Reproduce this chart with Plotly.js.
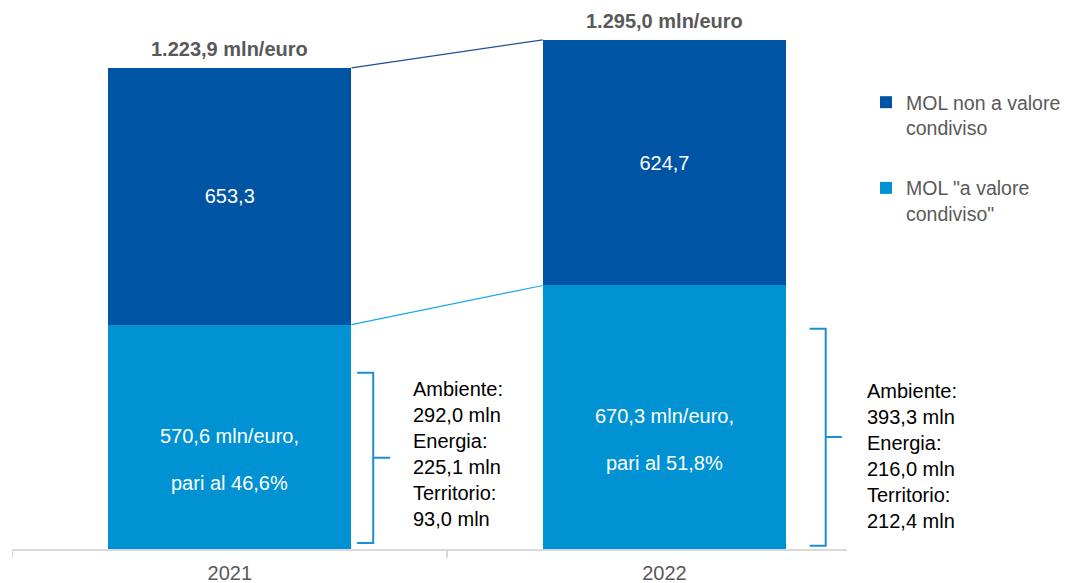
<!DOCTYPE html>
<html>
<head>
<meta charset="utf-8">
<script src="https://cdn.plot.ly/plotly-3.0.1.min.js"></script>
<style>html,body{margin:0;padding:0;background:#fff;}#chart{width:1072px;height:583px;}</style>
</head>
<body>
<div id="chart"></div>
<script>
// ---- data ----
var years = ['2021', '2022'];
var molCondiviso = [570.6, 670.3];      // MOL "a valore condiviso"
var molNonCondiviso = [653.3, 624.7];   // MOL non a valore condiviso
var ambiente = [292.0, 393.3];
var energia = [225.1, 216.0];
var territorio = [93.0, 212.4];
var seriesNames = ['MOL "a valore<br>condiviso"', 'MOL non a valore<br>condiviso'];

// ---- helpers ----
function fmt(v) {
  var s = v.toFixed(1).split('.');
  var intPart = s[0].replace(/\B(?=(\d{3})+(?!\d))/g, '.');
  return intPart + ',' + s[1];
}
var xs = years.map(function (_, i) { return i; });
var totals = xs.map(function (i) { return molCondiviso[i] + molNonCondiviso[i]; });

var DARK = '#0054A4';
var LIGHT = '#0092D2';
var GRAY = '#595959';
var FONT = 'Liberation Sans, Arial, sans-serif';
var BW = 0.56;

var traces = [
  {
    type: 'bar', x: xs, y: molCondiviso, name: seriesNames[0],
    marker: {color: LIGHT}, width: BW, legendgroup: 'a', legendrank: 2,
    hoverinfo: 'skip', textposition: 'none'
  },
  {
    type: 'bar', x: xs, y: molNonCondiviso, name: seriesNames[1],
    marker: {color: DARK}, width: BW, legendgroup: 'b', legendrank: 1,
    text: molNonCondiviso.map(fmt), textposition: 'inside',
    insidetextanchor: 'middle', textangle: 0, constraintext: 'none',
    textfont: {color: '#ffffff', size: 20, family: FONT},
    hoverinfo: 'skip'
  },
  {
    type: 'scatter', mode: 'lines', x: [xs[0] + BW / 2, xs[1] - BW / 2], y: totals,
    line: {color: '#1F4E9A', width: 1.2}, showlegend: false, hoverinfo: 'skip'
  },
  {
    type: 'scatter', mode: 'lines', x: [xs[0] + BW / 2, xs[1] - BW / 2], y: molCondiviso,
    line: {color: '#18A8EC', width: 1.2}, showlegend: false, hoverinfo: 'skip'
  }
];

var annotations = [];
xs.forEach(function (i) {
  // totals above bars
  annotations.push({
    x: i, y: totals[i], xref: 'x', yref: 'y', yanchor: 'bottom', yshift: 6,
    text: '<b>' + fmt(totals[i]) + ' mln/euro</b>', showarrow: false,
    font: {size: 20, color: GRAY, family: FONT}
  });
  // light segment labels
  annotations.push({
    x: i, y: molCondiviso[i] / 2, xref: 'x', yref: 'y', yanchor: 'middle', yshift: 1,
    text: fmt(molCondiviso[i]) + ' mln/euro,', showarrow: false,
    font: {size: 20, color: '#ffffff', family: FONT}
  });
  annotations.push({
    x: i, y: molCondiviso[i] / 2, xref: 'x', yref: 'y', yanchor: 'middle', yshift: -46,
    text: 'pari al ' + fmt(molCondiviso[i] / totals[i] * 100) + '%', showarrow: false,
    font: {size: 20, color: '#ffffff', family: FONT}
  });
});
// breakdown texts
var breakdownX = [0.4775, 1.0215];
var breakdownY = [0.176, 0.1725];
xs.forEach(function (i) {
  annotations.push({
    x: breakdownX[i], y: breakdownY[i], xref: 'paper', yref: 'paper',
    xanchor: 'left', yanchor: 'middle', align: 'left', showarrow: false,
    text: 'Ambiente:<br>' + fmt(ambiente[i]) + ' mln<br>Energia:<br>' + fmt(energia[i]) +
          ' mln<br>Territorio:<br>' + fmt(territorio[i]) + ' mln',
    font: {size: 20, color: '#000000', family: FONT}
  });
});

// brackets (decorative)
function bracket(xv, xl, xr, yt, yb, ym) {
  return {
    type: 'path', xref: 'x', yref: 'y',
    path: 'M' + xl + ',' + yt + ' L' + xv + ',' + yt + ' L' + xv + ',' + yb + ' L' + xl + ',' + yb +
          ' M' + xv + ',' + ym + ' L' + xr + ',' + ym,
    line: {color: '#1B8FD2', width: 2}
  };
}
var shapes = [
  bracket(0.330, 0.293, 0.369, 448, 15, 232),
  bracket(1.371, 1.334, 1.408, 560, 8, 285)
];

var layout = {
  width: 1072, height: 583,
  margin: {l: 12, r: 225, t: 10, b: 34},
  paper_bgcolor: '#ffffff', plot_bgcolor: '#ffffff',
  barmode: 'stack',
  font: {family: FONT, color: GRAY, size: 20},
  showlegend: true,
  legend: {
    xref: 'container', yref: 'container',
    x: 866 / 1072, xanchor: 'left', y: 1 - 83 / 583, yanchor: 'top',
    traceorder: 'grouped', tracegroupgap: 32, valign: 'top',
    font: {size: 19.5, color: GRAY, family: FONT}, bgcolor: 'rgba(0,0,0,0)'
  },
  xaxis: {
    range: [-0.501, 1.42], tickvals: xs, ticktext: years, ticks: '',
    showline: true, linecolor: '#D9D9D9', linewidth: 1.5,
    showgrid: false, zeroline: false, ticklabelstandoff: 5,
    tickfont: {size: 20, color: GRAY, family: FONT},
    minor: {tickmode: 'array', tickvals: [-0.5, 0.5], ticks: 'outside', ticklen: 7,
            tickcolor: '#D9D9D9', tickwidth: 1.5, showgrid: false},
    fixedrange: true
  },
  yaxis: {range: [0, 1371], visible: false, fixedrange: true},
  annotations: annotations,
  shapes: shapes
};

Plotly.newPlot('chart', traces, layout, {displayModeBar: false, staticPlot: true});
</script>
</body>
</html>
